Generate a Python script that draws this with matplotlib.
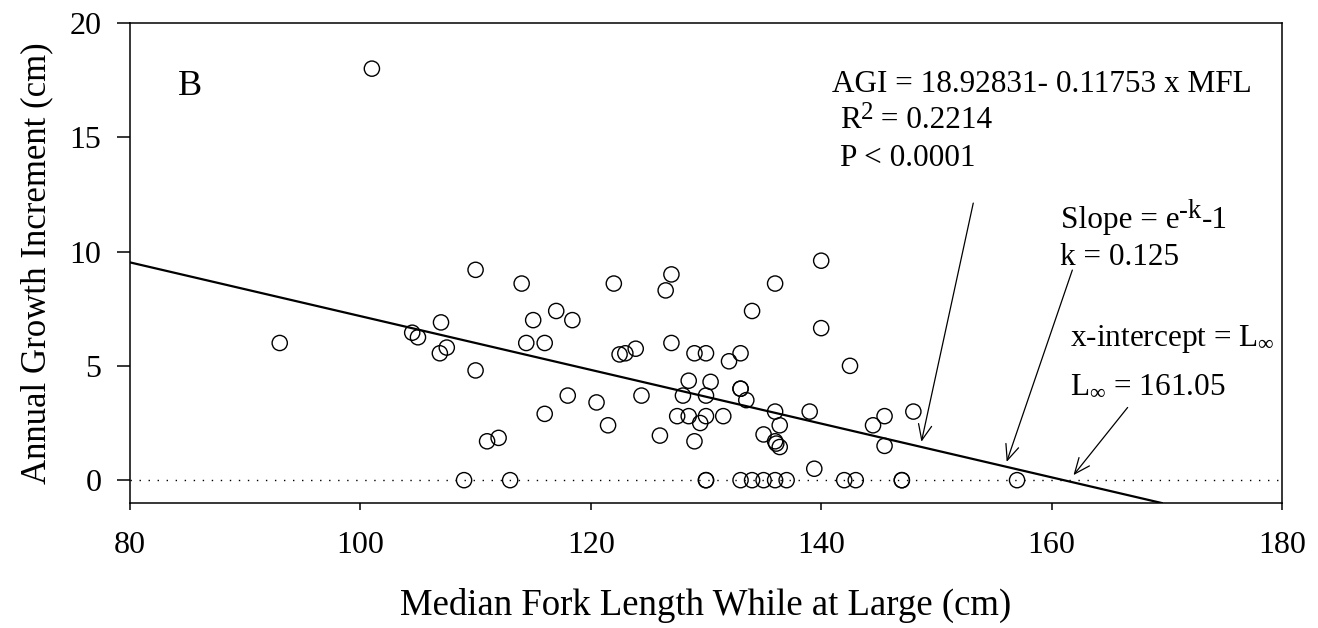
import numpy as np
import matplotlib
matplotlib.use("Agg")
import matplotlib.pyplot as plt

plt.rcParams['font.family'] = ['Liberation Serif', 'DejaVu Serif']
plt.rcParams['mathtext.fontset'] = 'custom'
plt.rcParams['mathtext.rm'] = 'Liberation Serif'
plt.rcParams['mathtext.it'] = 'Liberation Serif'

# median fork length while at large (cm) and annual growth increment (cm)
mfl = [93, 101, 110, 114, 122, 127, 126.5, 115, 117, 118.4, 107, 104.5, 105,
       107.5, 106.9, 114.4, 116, 110, 122.5, 123, 123.9, 127, 118, 120.5, 116,
       124.4, 121.5, 126, 111, 112, 109, 113,
       140, 136, 134, 140, 142.5, 129, 130, 132, 133, 128.5, 130.4, 128, 130,
       133, 133, 133.5, 127.5, 128.5, 130, 129.5, 131.5, 129, 136, 136.4, 135,
       136, 136.1, 136.4, 139, 139.4, 144.5, 145.5, 145.5, 148,
       130, 130, 133, 134, 135, 136, 137, 142, 143, 147, 147, 157]
agi = [6.0, 18.0, 9.2, 8.6, 8.6, 9.0, 8.3, 7.0, 7.4, 7.0, 6.9, 6.45, 6.25,
       5.8, 5.55, 6.0, 6.0, 4.8, 5.5, 5.55, 5.75, 6.0, 3.7, 3.4, 2.9,
       3.7, 2.4, 1.95, 1.7, 1.85, 0, 0,
       9.6, 8.6, 7.4, 6.65, 5.0, 5.55, 5.55, 5.2, 5.55, 4.35, 4.3, 3.7, 3.7,
       4.0, 4.0, 3.5, 2.8, 2.8, 2.8, 2.5, 2.8, 1.7, 3.0, 2.4, 2.0,
       1.7, 1.6, 1.45, 3.0, 0.5, 2.4, 2.8, 1.5, 3.0,
       0, 0, 0, 0, 0, 0, 0, 0, 0, 0, 0, 0]

# fitted regression AGI = a + b * MFL
intercept = 18.92831
slope = -0.11753
r2 = 0.2214
k_val = 0.125
l_inf = 161.05

x_ticks = [80, 100, 120, 140, 160, 180]
y_ticks = [0, 5, 10, 15, 20]

fig = plt.figure(figsize=(13.18, 6.28), dpi=100)
ax = fig.add_axes([0.0986, 0.199, 0.8741, 0.7645])

ax.set_xlim(80, 180)
ax.set_ylim(-1, 20)

# zero reference line
ax.axhline(0, color='black', lw=1.0, linestyle=(0, (1, 5.5)), zorder=1)

# regression line, clipped at the lower edge of the axes
x_end = (-1 - intercept) / slope
xs = np.array([80, x_end])
ax.plot(xs, intercept + slope * xs, color='black', lw=1.6, zorder=2)

ax.scatter(mfl, agi, s=120, facecolors='none', edgecolors='black',
           linewidths=1.0, zorder=3)

ax.set_xticks(x_ticks)
ax.set_yticks(y_ticks)
ax.tick_params(axis='both', labelsize=23, width=1.1, color='black')
ax.tick_params(axis='y', length=9.5, pad=11)
ax.tick_params(axis='x', length=5, pad=15)
for sp in ax.spines.values():
    sp.set_linewidth(1.1)

ax.set_xlabel('Median Fork Length While at Large (cm)', fontsize=26.5, labelpad=20)
ax.set_ylabel('Annual Growth Increment (cm)', fontsize=25, labelpad=12)

FS = 22.5
renderer = fig.canvas.get_renderer()


def rich_text(x, y, parts, **kw):
    # pieces of (string, rise in points, size factor) laid out left to right
    dx = 0
    for s, rise, scale in parts:
        t = ax.annotate(s, (x, y), xytext=(dx, rise), textcoords='offset points',
                        fontsize=FS * scale, ha='left', va='baseline', **kw)
        dx += t.get_window_extent(renderer).width * 72 / fig.dpi


txt = dict(fontsize=FS, ha='left', va='baseline')
ax.text(84.17, 16.85, 'B', fontsize=26, ha='left', va='baseline')
ax.text(140.9, 16.97, 'AGI = %.5f- %.5f x MFL' % (intercept, -slope), **txt)
rich_text(141.6, 15.4, [('R', 0, 1), ('2', 6.5, 0.8), (' = %.4f' % r2, 0, 1)])
ax.text(141.6, 13.74, 'P < 0.0001', **txt)
rich_text(160.8, 11.03, [('Slope = e', 0, 1), ('-k', 7.5, 0.85), ('-1', 0, 1)])
ax.text(160.75, 9.41, 'k = %.3f' % k_val, **txt)
ax.text(161.6, 5.86, r'x-intercept = L$_{\infty}$', clip_on=True, **txt)
ax.text(161.6, 3.81, r'L$_{\infty}$ = %.2f' % l_inf, **txt)

arrow = dict(arrowstyle='->,head_length=0.7,head_width=0.3', lw=0.9,
             color='black', shrinkA=0, shrinkB=0, mutation_scale=16)
ax.annotate('', xy=(148.7, 1.68), xytext=(153.2, 12.12), arrowprops=arrow)
ax.annotate('', xy=(156.1, 0.80), xytext=(161.8, 9.19), arrowprops=arrow)
ax.annotate('', xy=(161.9, 0.22), xytext=(166.6, 3.18), arrowprops=arrow)

fig.savefig('out.png', dpi=100)
